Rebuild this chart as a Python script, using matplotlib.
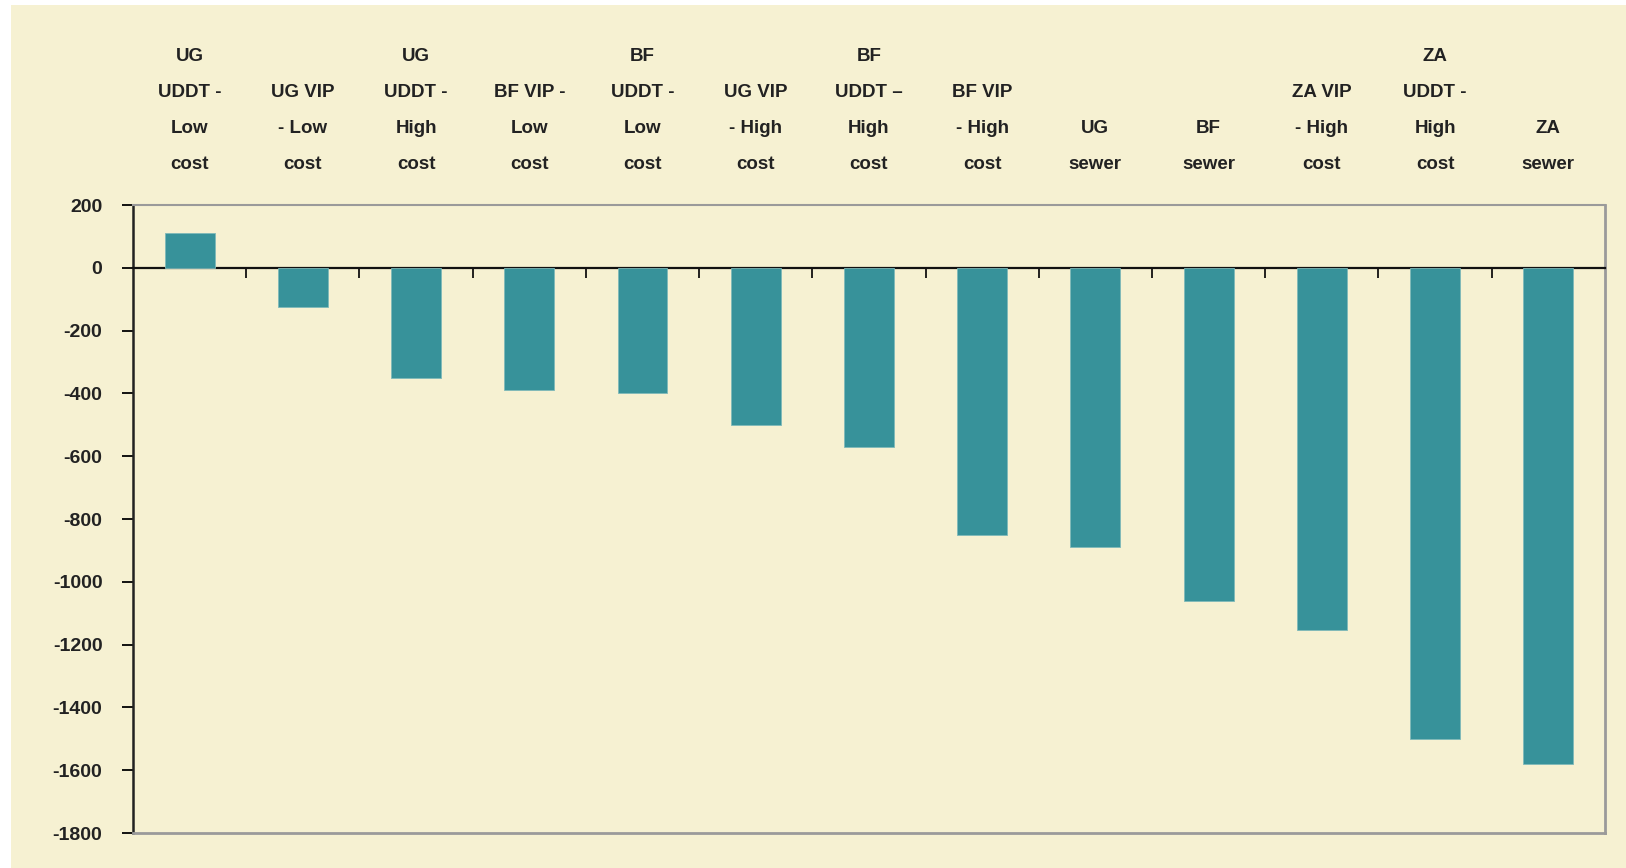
import matplotlib.pyplot as plt
from matplotlib.patches import Rectangle
from matplotlib.ticker import FixedLocator
from matplotlib import transforms

categories = [
    "UG\nUDDT -\nLow\ncost",
    "UG VIP\n- Low\ncost",
    "UG\nUDDT -\nHigh\ncost",
    "BF VIP -\nLow\ncost",
    "BF\nUDDT -\nLow\ncost",
    "UG VIP\n- High\ncost",
    "BF\nUDDT –\nHigh\ncost",
    "BF VIP\n- High\ncost",
    "UG\nsewer",
    "BF\nsewer",
    "ZA VIP\n- High\ncost",
    "ZA\nUDDT -\nHigh\ncost",
    "ZA\nsewer",
]
values = [110, -125, -350, -390, -400, -500, -570, -850, -890, -1060, -1155, -1500, -1580]
y_ticks = list(range(-1800, 201, 200))

cream = "#F6F1D2"
teal = "#37929A"

plt.rcParams["font.family"] = ["Liberation Sans", "DejaVu Sans"]

fig = plt.figure(figsize=(16.26, 8.68), dpi=100)
fig.patch.set_facecolor("white")
fig.patches.append(Rectangle((0.007, 0.0), 0.993, 0.994, transform=fig.transFigure,
                             facecolor=cream, edgecolor="none", zorder=-10))

ax = fig.add_axes([0.0818, 0.0403, 0.9052, 0.7235])
ax.set_zorder(5)
ax.set_facecolor(cream)

x = list(range(len(values)))
ax.bar(x, values, width=0.44, color=teal, edgecolor="#7fb9b9", linewidth=0.6, zorder=3)

ax.set_xlim(-0.5, len(values) - 0.5)
ax.set_ylim(-1800, 200)
ax.set_yticks(y_ticks)
ax.set_yticklabels([str(v) for v in y_ticks], fontweight="bold")

# boundary ticks on the zero line, no labels there
ax.set_xticks([])
ax.xaxis.set_minor_locator(FixedLocator([i + 0.5 for i in x[:-1]]))
ax.tick_params(axis="x", which="minor", bottom=True, top=False, direction="out",
               length=7, width=1.3, color="#111111")
ax.tick_params(axis="y", direction="out", length=8, width=1.3, labelsize=14,
               pad=14, labelcolor="#222222")

# category names above the plot
trans = transforms.offset_copy(ax.get_xaxis_transform(), fig=fig, x=0, y=32, units="dots")
for xi, name in zip(x, categories):
    ax.text(xi, 1.0, name, transform=trans, ha="center", va="bottom",
            fontsize=13.5, fontweight="bold", linespacing=2.45, color="#222222",
            clip_on=False)

ax.spines["bottom"].set_position(("data", 0))
ax.spines["bottom"].set_color("#111111")
ax.spines["bottom"].set_linewidth(1.6)
ax.spines["left"].set_color("#222222")
ax.spines["left"].set_linewidth(1.8)
ax.spines["top"].set_color("#9a9a9a")
ax.spines["top"].set_linewidth(1.5)
ax.spines["right"].set_color("#9a9a9a")
ax.spines["right"].set_linewidth(2)
ax.axhline(-1800, color="#9a9a9a", linewidth=2, zorder=4, clip_on=False)

fig.savefig("out.png", dpi=100, facecolor=fig.get_facecolor())
